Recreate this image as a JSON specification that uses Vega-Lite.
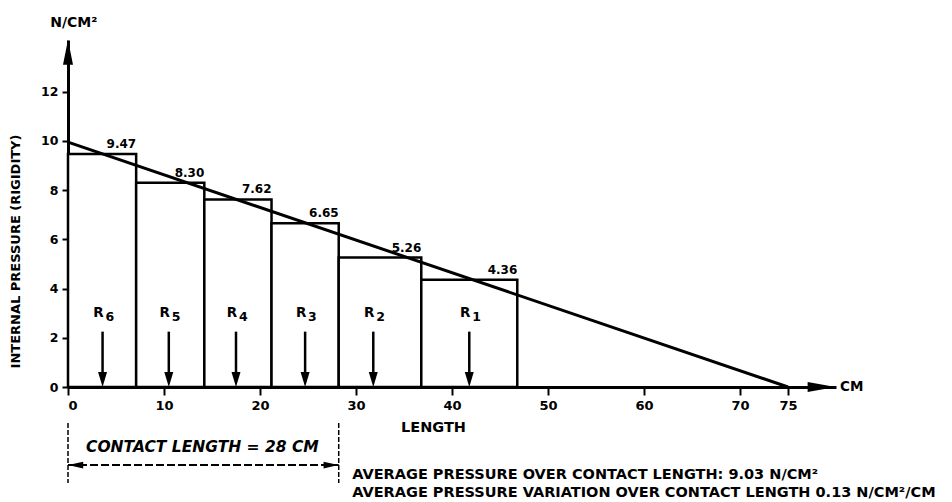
{
  "$schema": "https://vega.github.io/schema/vega-lite/v6.json",
  "autosize": "none",
  "width": 768,
  "height": 347,
  "padding": {"left": 68, "top": 40, "right": 116, "bottom": 115},
  "background": "white",
  "config": {
    "view": {"stroke": null},
    "font": "DejaVu Sans",
    "axis": {"grid": false, "domainColor": "black", "tickColor": "black", "labelColor": "black", "titleColor": "black", "labelFont": "DejaVu Sans", "titleFont": "DejaVu Sans", "labelFontWeight": "bold", "titleFontWeight": "bold"}
  },
  "datasets": {
    "bars": [
      {"x0": 0, "x1": 7.1, "p": 9.47, "lbl": "9.47", "xc": 3.6, "r": "6"},
      {"x0": 7.1, "x1": 14.2, "p": 8.30, "lbl": "8.30", "xc": 10.5, "r": "5"},
      {"x0": 14.2, "x1": 21.2, "p": 7.62, "lbl": "7.62", "xc": 17.5, "r": "4"},
      {"x0": 21.2, "x1": 28.2, "p": 6.65, "lbl": "6.65", "xc": 24.7, "r": "3"},
      {"x0": 28.2, "x1": 36.8, "p": 5.26, "lbl": "5.26", "xc": 31.8, "r": "2"},
      {"x0": 36.8, "x1": 46.8, "p": 4.36, "lbl": "4.36", "xc": 41.8, "r": "1"}
    ],
    "trend": [
      {"x": 0, "p": 9.95},
      {"x": 75, "p": 0}
    ]
  },
  "layer": [
    {
      "data": {"name": "bars"},
      "mark": {"type": "rect", "fill": "white", "stroke": "black", "strokeWidth": 2.5},
      "encoding": {
        "x": {"field": "x0", "type": "quantitative", "scale": {"domain": [0, 80], "nice": false, "zero": false},
          "axis": {"values": [0, 10, 20, 30, 40, 50, 60, 70, 75], "domainWidth": 3, "tickWidth": 2, "tickSize": 8, "labelFontSize": 13, "labelPadding": 4, "title": "LENGTH", "titleFontSize": 14.5, "titleX": 365, "titleY": 40, "titleBaseline": "middle", "titleAlign": "center"}},
        "x2": {"field": "x1"},
        "y": {"field": "p", "type": "quantitative", "scale": {"domain": [0, 14.1], "nice": false, "zero": false},
          "axis": {"values": [0, 2, 4, 6, 8, 10, 12], "domainWidth": 3, "tickWidth": 2, "tickSize": 6, "labelFontSize": 12.5, "labelPadding": 4, "title": "INTERNAL PRESSURE (RIGIDITY)", "titleFontSize": 13, "titleAngle": 270, "titleX": -53, "titleY": 211, "titleAlign": "center", "titleBaseline": "middle"}},
        "y2": {"datum": 0}
      }
    },
    {
      "data": {"name": "trend"},
      "mark": {"type": "line", "color": "black", "strokeWidth": 3, "clip": false},
      "encoding": {
        "x": {"field": "x", "type": "quantitative"},
        "y": {"field": "p", "type": "quantitative"}
      }
    },
    {
      "data": {"name": "bars"},
      "mark": {"type": "text", "align": "right", "baseline": "bottom", "dy": -3, "fontWeight": "bold", "fontSize": 12},
      "encoding": {
        "x": {"field": "x1", "type": "quantitative"},
        "y": {"field": "p", "type": "quantitative"},
        "text": {"field": "lbl"}
      }
    },
    {
      "data": {"name": "bars"},
      "mark": {"type": "rule", "color": "black", "strokeWidth": 2.5},
      "encoding": {
        "x": {"field": "xc", "type": "quantitative"},
        "y": {"datum": 2.25},
        "y2": {"datum": 0.4}
      }
    },
    {
      "data": {"name": "bars"},
      "mark": {"type": "point", "shape": "M0,1L-0.6,-1L0.6,-1Z", "filled": true, "color": "black", "opacity": 1, "size": 225},
      "encoding": {
        "x": {"field": "xc", "type": "quantitative"},
        "y": {"datum": 0.3}
      }
    },
    {
      "data": {"name": "bars"},
      "mark": {"type": "text", "baseline": "middle", "align": "center", "fontWeight": "bold", "fontSize": 13.5, "dx": -4, "text": "R"},
      "encoding": {
        "x": {"field": "xc", "type": "quantitative"},
        "y": {"datum": 3.0}
      }
    },
    {
      "data": {"name": "bars"},
      "mark": {"type": "text", "baseline": "middle", "align": "left", "fontWeight": "bold", "fontSize": 12.5, "dx": 3, "dy": 4},
      "encoding": {
        "x": {"field": "xc", "type": "quantitative"},
        "y": {"datum": 3.0},
        "text": {"field": "r"}
      }
    },
    {
      "data": {"values": [{"x": 0, "p": 13.6}]},
      "mark": {"type": "point", "shape": "M0,-1L0.4,1L-0.4,1Z", "size": 625, "filled": true, "color": "black", "opacity": 1, "clip": false},
      "encoding": {
        "x": {"field": "x", "type": "quantitative"},
        "y": {"field": "p", "type": "quantitative"}
      }
    },
    {
      "data": {"values": [{"x": 78.5, "p": 0}]},
      "mark": {"type": "point", "shape": "M1,0L-1,-0.36L-1,0.36Z", "size": 784, "filled": true, "color": "black", "opacity": 1, "clip": false},
      "encoding": {
        "x": {"field": "x", "type": "quantitative"},
        "y": {"field": "p", "type": "quantitative"}
      }
    },
    {
      "data": {"values": [{"x": 0}, {"x": 28.2}]},
      "mark": {"type": "rule", "color": "black", "strokeWidth": 1.5, "strokeDash": [5, 2], "clip": false},
      "encoding": {
        "x": {"field": "x", "type": "quantitative"},
        "y": {"datum": -1.46},
        "y2": {"datum": -3.9}
      }
    },
    {
      "data": {"values": [{"x0": 0, "x1": 28.2}]},
      "mark": {"type": "rule", "color": "black", "strokeWidth": 1.8, "strokeDash": [8, 3], "clip": false},
      "encoding": {
        "x": {"field": "x0", "type": "quantitative"},
        "x2": {"field": "x1"},
        "y": {"datum": -3.17}
      }
    },
    {
      "data": {"values": [{"x": 0.8}]},
      "mark": {"type": "point", "shape": "M-1,0L1,-0.45L1,0.45Z", "filled": true, "color": "black", "opacity": 1, "size": 225, "clip": false},
      "encoding": {
        "x": {"field": "x", "type": "quantitative"},
        "y": {"datum": -3.17}
      }
    },
    {
      "data": {"values": [{"x": 27.4}]},
      "mark": {"type": "point", "shape": "M1,0L-1,-0.45L-1,0.45Z", "filled": true, "color": "black", "opacity": 1, "size": 225, "clip": false},
      "encoding": {
        "x": {"field": "x", "type": "quantitative"},
        "y": {"datum": -3.17}
      }
    },
    {
      "data": {"values": [
        {"x": 0.6, "p": 14.8, "t": "N/CM²"}
      ]},
      "mark": {"type": "text", "baseline": "middle", "align": "center", "fontWeight": "bold", "fontSize": 14, "color": "black", "clip": false},
      "encoding": {
        "x": {"field": "x", "type": "quantitative"},
        "y": {"field": "p", "type": "quantitative"},
        "text": {"field": "t"}
      }
    },
    {
      "data": {"values": [
        {"x": 80, "p": 0, "t": "CM"}
      ]},
      "mark": {"type": "text", "baseline": "middle", "align": "left", "dx": 4, "fontWeight": "bold", "fontSize": 13.5, "color": "black", "clip": false},
      "encoding": {
        "x": {"field": "x", "type": "quantitative"},
        "y": {"field": "p", "type": "quantitative"},
        "text": {"field": "t"}
      }
    },
    {
      "data": {"values": [
        {"x": 29.4, "p": -3.58, "t": "AVERAGE PRESSURE OVER CONTACT LENGTH: 9.03 N/CM²"},
        {"x": 29.4, "p": -4.31, "t": "AVERAGE PRESSURE VARIATION OVER CONTACT LENGTH  0.13 N/CM²/CM"}
      ]},
      "mark": {"type": "text", "baseline": "middle", "align": "left", "dx": 2, "fontWeight": "bold", "fontSize": 14.5, "color": "black", "clip": false},
      "encoding": {
        "x": {"field": "x", "type": "quantitative"},
        "y": {"field": "p", "type": "quantitative"},
        "text": {"field": "t"}
      }
    },
    {
      "data": {"values": [
        {"x": 14, "p": -2.44, "t": "CONTACT LENGTH = 28 CM"}
      ]},
      "mark": {"type": "text", "baseline": "middle", "align": "center", "fontWeight": "bold", "fontStyle": "italic", "fontSize": 15.5, "color": "black", "clip": false},
      "encoding": {
        "x": {"field": "x", "type": "quantitative"},
        "y": {"field": "p", "type": "quantitative"},
        "text": {"field": "t"}
      }
    }
  ]
}
